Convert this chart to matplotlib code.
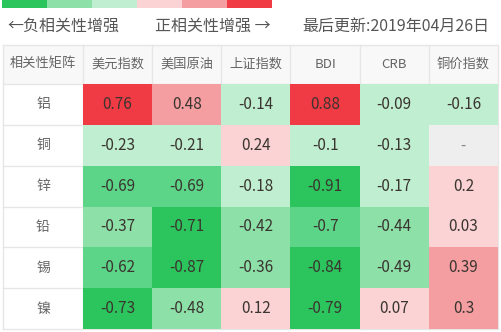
import numpy as np
import matplotlib
matplotlib.use("Agg")
import matplotlib.pyplot as plt
from matplotlib.colors import ListedColormap, BoundaryNorm

plt.rcParams['font.family'] = ['Noto Sans CJK SC', 'DejaVu Sans']

# data
metals = ['铝', '铜', '锌', '铅', '锡', '镍']
indexes = ['美元指数', '美国原油', '上证指数', 'BDI', 'CRB', '铜价指数']
corr = np.array([
    [0.76, 0.48, -0.14, 0.88, -0.09, -0.16],
    [-0.23, -0.21, 0.24, -0.1, -0.13, np.nan],
    [-0.69, -0.69, -0.18, -0.91, -0.17, 0.2],
    [-0.37, -0.71, -0.42, -0.7, -0.44, 0.03],
    [-0.62, -0.87, -0.36, -0.84, -0.49, 0.39],
    [-0.73, -0.48, 0.12, -0.79, 0.07, 0.3],
])
corner_label = '相关性矩阵'
neg_label = '←负相关性增强'
pos_label = '正相关性增强 →'
update_label = '最后更新:2019年04月26日'

bins = [-1.0, -0.7, -0.6, -0.3, 0.0, 0.3, 0.7, 1.0]
cell_colors = ['#2cc55d', '#5dd588', '#8de0a8', '#c0eed0',
               '#fbd3d5', '#f59ea2', '#f03a44']
legend_colors = ['#2cc55d', '#8de0a8', '#c0eed0', '#fbd3d5', '#f59ea2', '#f03a44']

cmap = ListedColormap(cell_colors)
cmap.set_bad('#eeeeee')
norm = BoundaryNorm(bins, cmap.N)

fig = plt.figure(figsize=(5.01, 3.32), dpi=100)
ax = fig.add_axes([0, 0, 1, 1])
ax.set_xlim(0, 501)
ax.set_ylim(332, 0)
ax.axis('off')

# legend strip on top
lx = np.linspace(2, 272, len(legend_colors) + 1)
for i, c in enumerate(legend_colors):
    ax.add_patch(plt.Rectangle((lx[i], 0), lx[i + 1] - lx[i], 8, color=c, lw=0))

ax.text(7, 26, neg_label, fontsize=11.5, color='#555555', va='center', ha='left')
ax.text(155, 26, pos_label, fontsize=11.5, color='#555555', va='center', ha='left')
ax.text(302, 26, update_label, fontsize=11.5, color='#555555', va='center', ha='left')

# table geometry
x_edges = np.concatenate([[3, 83], np.linspace(83, 498, len(indexes) + 1)[1:]])
y_edges = np.concatenate([[45], np.linspace(84, 329, len(metals) + 1)])
grid_c = '#e6e6e6'

# header row + first column backgrounds
ax.add_patch(plt.Rectangle((x_edges[0], y_edges[0]), x_edges[-1] - x_edges[0],
                           y_edges[1] - y_edges[0], color='#f8f8f8', lw=0))
ax.add_patch(plt.Rectangle((x_edges[0], y_edges[1]), x_edges[1] - x_edges[0],
                           y_edges[-1] - y_edges[1], color='white', lw=0))
for x in x_edges:
    ax.plot([x, x], [y_edges[0], y_edges[-1]], color=grid_c, lw=1)
for y in y_edges:
    ax.plot([x_edges[0], x_edges[-1]], [y, y], color=grid_c, lw=1)

# colored cells
ax.pcolormesh(x_edges[1:], y_edges[1:], np.ma.masked_invalid(corr),
              cmap=cmap, norm=norm, zorder=3)

xc = (x_edges[:-1] + x_edges[1:]) / 2
yc = (y_edges[:-1] + y_edges[1:]) / 2

ax.text(xc[0], yc[0], corner_label, fontsize=9.5, color='#666666', ha='center', va='center')
for j, name in enumerate(indexes):
    ax.text(xc[j + 1], yc[0], name, fontsize=9.5, color='#666666', ha='center', va='center')
for i, name in enumerate(metals):
    ax.text(xc[0], yc[i + 1], name, fontsize=10, color='#666666', ha='center', va='center')
    for j in range(len(indexes)):
        v = corr[i, j]
        s = '-' if np.isnan(v) else f'{v:g}'
        col = '#888888' if np.isnan(v) else '#3a3530'
        ax.text(xc[j + 1], yc[i + 1], s, fontsize=11, color=col,
                ha='center', va='center', zorder=4)

fig.savefig('out.png', dpi=100)
